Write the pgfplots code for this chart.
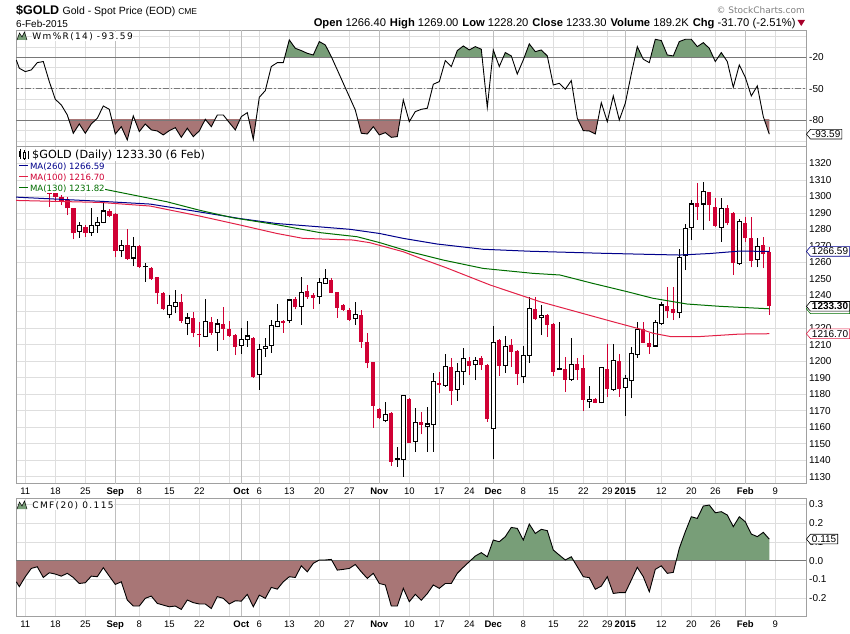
\documentclass[border=0pt]{standalone}
\usepackage{fontspec}
\setmainfont{Liberation Sans}
\newfontfamily\dv{DejaVu Sans}
\newfontfamily\dvs[LetterSpace=15]{DejaVu Sans}
\usepackage{pgfplots}
\pgfplotsset{compat=1.18}
\usepackage{pgfplotstable}
\usetikzlibrary{shapes.symbols}

\definecolor{cred}{RGB}{208,0,52}
\definecolor{mablue}{RGB}{0,0,139}
\definecolor{mared}{RGB}{226,32,70}
\definecolor{magreen}{RGB}{0,110,0}
\definecolor{fgreen}{RGB}{120,158,120}
\definecolor{fred}{RGB}{168,118,118}
\definecolor{gridc}{RGB}{222,222,222}
\definecolor{monthc}{RGB}{190,190,190}
\definecolor{framec}{RGB}{160,160,160}
\definecolor{refl}{RGB}{120,120,120}

\pgfplotstableread{
x v
-5.5 -22.6
-5 -30.5
-4 -33.7
-3 -32.1
-2 -25.1
-1 -24.1
0 -43.3
1 -60.2
2 -65.6
3 -75.2
4 -92.7
5 -83.8
6 -92.7
7 -83.8
8 -78.4
9 -66.6
10 -69.8
11 -93.4
12 -86.4
13 -99.1
14 -76.1
15 -91.1
16 -83.8
17 -89.5
18 -90.5
19 -94.3
20 -90.2
21 -87.3
22 -96.6
23 -87.9
24 -95.9
25 -90.5
26 -79.3
27 -86.4
28 -75.2
29 -75.2
30 -82.5
31 -89.5
32 -76.8
33 -73
34 -98.5
35 -58.3
36 -51.9
37 -28.9
38 -25.1
39 -25.1
40 -3.4
41 -11.4
42 -13.6
43 -16.2
44 -17.8
45 -5
46 -8.2
47 -19.4
48 -32.1
49 -44.9
50 -57.6
51 -70.4
52 -92.7
53 -93.4
54 -86.4
55 -94.3
56 -92.1
57 -96.6
58 -95.9
59 -60.8
60 -81.6
61 -72
62 -69.8
63 -68.8
64 -45.8
65 -43.3
66 -23.2
67 -28.9
68 -13.6
69 -9.2
70 -13
71 -9.8
72 -12.3
73 -67.9
74 -13
75 -28.9
76 -15.5
77 -18.7
78 -36
79 -22.6
80 -7.2
81 -14.6
82 -13
83 -18.7
84 -46.5
85 -44.9
86 -50.6
87 -42.3
88 -78.4
89 -90.2
90 -90.5
91 -93.4
92 -63.4
93 -81.6
94 -57
95 -80
96 -64
97 -36
98 -9.8
99 -21.9
100 -25.1
101 -2.8
102 -4
103 -17.8
104 -18.7
105 -5
106 -2.8
107 -2.8
108 -9.8
109 -6
110 -11.4
111 -24.1
112 -15.5
113 -24.1
114 -48.7
115 -27.3
116 -39.1
117 -57
118 -47.4
119 -76.8
120 -93.59
}\wrdata

\pgfplotstableread{
x v
-5.5 -0.112
-5 -0.138
-4 -0.085
-3 -0.041
-2 -0.032
-1 -0.089
0 -0.064
1 -0.071
2 -0.082
3 -0.067
4 -0.089
5 -0.121
6 -0.117
7 -0.082
8 -0.085
9 -0.037
10 -0.082
11 -0.126
12 -0.112
13 -0.209
14 -0.241
15 -0.241
16 -0.2
17 -0.188
18 -0.227
19 -0.236
20 -0.245
21 -0.241
22 -0.259
23 -0.209
24 -0.223
25 -0.23
26 -0.23
27 -0.254
28 -0.191
29 -0.2
30 -0.23
31 -0.213
32 -0.215
33 -0.179
34 -0.245
35 -0.183
36 -0.2
37 -0.142
38 -0.151
39 -0.112
40 -0.085
41 -0.089
42 -0.027
43 -0.059
44 -0.014
45 0.004
46 0.004
47 0.007
48 -0.05
49 -0.046
50 -0.041
51 -0.02
52 -0.059
53 -0.094
54 -0.067
55 -0.121
56 -0.129
57 -0.241
58 -0.241
59 -0.147
60 -0.218
61 -0.179
62 -0.21
63 -0.175
64 -0.129
65 -0.147
66 -0.121
67 -0.121
68 -0.067
69 -0.035
70 -0.005
71 0.025
72 0.043
73 0.021
74 0.11
75 0.101
76 0.128
77 0.177
78 0.172
79 0.11
80 0.195
81 0.145
82 0.167
83 0.16
84 0.057
85 0.03
86 0.004
87 0.021
88 -0.032
89 -0.085
90 -0.09
91 -0.152
92 -0.135
93 -0.085
94 -0.174
95 -0.17
96 -0.17
97 -0.103
98 -0.035
99 -0.085
100 -0.165
101 -0.046
102 -0.027
103 -0.067
104 -0.062
105 0.066
106 0.154
107 0.234
108 0.225
109 0.291
110 0.296
111 0.255
112 0.261
113 0.243
114 0.181
115 0.234
116 0.207
117 0.142
118 0.128
119 0.151
120 0.115
}\cmfdata

\pgfplotstableread{
x v
-5.55 1299.5
8.45 1297
16.8 1295.3
25.1 1290.5
31.8 1286.5
37.9 1283.5
45 1281.5
50.1 1280
55 1277.5
59 1274.5
64.6 1271.1
72.3 1267.9
80.1 1266.7
91.8 1265.5
100 1264.8
105.1 1264.4
110 1265.3
115.1 1266.8
120 1266.59
}\maA

\pgfplotstableread{
x v
-5.55 1297.5
8.45 1296.3
16.8 1294.1
25.1 1288
31.8 1282.6
37.9 1277.5
42.3 1274.5
50.6 1273.5
53.4 1271.9
59 1266.4
62 1262.2
66.3 1256.5
73.5 1246.2
81.8 1236.1
88.9 1229
93.9 1224
98.5 1219.5
100.6 1217
103.5 1215
108.5 1215
115.1 1216.5
120 1216.7
}\maB

\pgfplotstableread{
x v
9.3 1304.2
19.6 1296.7
25.1 1291.5
30.6 1287
37.9 1282.8
45.1 1278
51.3 1275.5
55.1 1271.9
60.1 1266.4
65.6 1261.4
72.3 1256.3
80.6 1253.3
85.1 1252.3
90.6 1247.2
96.3 1242.2
100.6 1238.2
106.3 1234.7
111.8 1233.3
120 1231.82
}\maC

% down (red) candles: x open high low close
\pgfplotstableread{
x o h l c
0 1302.5 1305 1293.7 1301.5
1 1302.2 1303 1296.7 1299.3
2 1299.3 1300.8 1294.7 1296.7
3 1297.7 1299.7 1288.6 1292.7
4 1292.7 1293.2 1273.9 1277.5
6 1281.2 1282.4 1275.5 1277.5
10 1291.1 1292.1 1287.2 1288.2
11 1289.2 1290 1263 1267
13 1270.3 1280 1261.5 1262
15 1269.9 1270.5 1256.5 1256.9
17 1256.7 1257.2 1249.2 1249.7
18 1250.9 1251.2 1234.7 1241.2
19 1241.6 1242 1230.8 1231.5
22 1235.9 1240.7 1223.4 1224.3
24 1226 1230 1214.5 1217
25 1216.6 1224 1208.9 1215.7
27 1224 1227 1216 1217.3
29 1222.6 1233 1213 1219.6
30 1219.6 1224.6 1215 1215.5
31 1216 1216.3 1203.8 1208.9
34 1214.1 1214.5 1190.1 1190.5
39 1224.6 1225 1217.3 1223.4
41 1237.8 1239.2 1231.5 1232.7
43 1242.4 1246 1238 1239.2
44 1240.2 1241.6 1231.7 1238.6
47 1249.3 1250.3 1241.2 1241.6
48 1241.8 1242 1226.4 1232.5
49 1234.1 1234.5 1230.5 1231.1
50 1231.1 1232 1224.6 1225
52 1228 1231.1 1208.2 1211.9
53 1211.5 1217 1195.7 1198.8
54 1199.4 1199.5 1159.8 1173.1
55 1171.1 1171.5 1165 1165.4
57 1168.7 1169 1136.7 1139.2
60 1177.1 1177.5 1150.2 1150.7
62 1163 1169 1155.7 1161.4
65 1186.6 1193.7 1180.6 1185.6
67 1196.3 1201.8 1173.5 1182.2
70 1200.2 1202.8 1191.7 1197.4
72 1201.8 1203 1194.7 1197.8
73 1197.8 1198.5 1163.4 1165
75 1212.9 1213.5 1191.1 1197.4
77 1209.7 1213.5 1196.7 1205.8
78 1206.2 1207 1185.6 1192.3
81 1231.7 1239.2 1225 1225.6
83 1227.9 1228.5 1214.9 1222
84 1222.6 1223 1191.1 1193.7
86 1195.3 1202.8 1181.6 1188.9
88 1198.4 1201.8 1188.6 1194.7
89 1195.7 1203.8 1169.9 1176.5
91 1177.1 1178 1174.5 1174.9
93 1195.3 1210.3 1178.6 1183
95 1200.2 1204.2 1178.6 1183
99 1219.4 1223.6 1211 1211.3
100 1210.9 1217.3 1204.4 1208.9
103 1233.5 1245.2 1226 1230.7
104 1231.5 1245.2 1225 1229.1
108 1296.1 1308.3 1285.6 1293.7
110 1302.4 1302.8 1285.2 1294.7
111 1293.7 1298.8 1281.2 1282
113 1292.7 1294.7 1282.6 1283.6
114 1289.7 1290.7 1252.3 1259.4
116 1284 1287.7 1272.5 1274.5
117 1274.5 1287.7 1256.9 1261
119 1270.5 1275.1 1256.3 1265
120 1266.4 1269 1228.2 1233.3
}\dn

% up (white) candles: x open high low close
\pgfplotstableread{
x o h l c
5 1278.7 1284.6 1274.9 1282.4
7 1278.1 1292.7 1276.1 1282.4
8 1282.2 1287.6 1277.9 1284.2
9 1284.2 1296.7 1283.6 1291.1
12 1267 1273.5 1263.4 1270.3
14 1262.6 1275.1 1257.7 1269.5
16 1257.2 1259.8 1248.2 1257.6
20 1228.6 1240.2 1226 1233.7
21 1233.3 1243.2 1229 1235.7
23 1223 1229.1 1215.9 1226.2
26 1215 1237.5 1214.5 1224
28 1217.6 1225.4 1206.4 1222.6
32 1209.5 1220 1204.4 1213.3
33 1213.3 1224.6 1208.9 1215.3
35 1192.1 1210.5 1182.6 1207.2
36 1207.9 1213.9 1202.8 1209.1
37 1209.5 1225 1205.2 1221.8
38 1221 1234.7 1220.6 1224.2
40 1224.6 1237.5 1223.4 1237.1
42 1233.3 1251.3 1222 1241.8
45 1239.2 1250.3 1234.7 1247.9
46 1247.2 1255.9 1247 1250.3
51 1226 1235.7 1222 1228.5
56 1164 1175.1 1163 1167.9
58 1140.6 1148.2 1136.1 1141.2
59 1140.6 1179 1130.1 1179
61 1151.3 1171.5 1145.2 1163
63 1160.4 1172.5 1145.2 1162
64 1161.8 1192.7 1145.2 1187.6
66 1185.4 1204.2 1184.6 1196.7
68 1183 1199.2 1176.1 1193.7
69 1193.7 1207.9 1185.6 1201.8
71 1197.8 1202.8 1188.6 1200.6
74 1159.4 1221.4 1140.8 1211.3
76 1197.4 1215.3 1193.1 1209.1
79 1190.9 1209.5 1186.6 1203.6
80 1203.6 1239.2 1199.2 1232.1
82 1226.6 1234.1 1215.9 1227.9
85 1195.1 1224 1195 1195.5
87 1189.1 1213.9 1188.3 1198.1
90 1175.5 1185 1171.9 1177
92 1174.9 1196.5 1174.5 1196.3
94 1183 1210.3 1182 1200.6
96 1184.2 1191.7 1167 1189.7
97 1188.1 1208.5 1177.5 1204.8
98 1204.2 1224 1202.2 1219.4
101 1209.3 1225 1209 1223.6
102 1223 1236.1 1222 1234.1
105 1229.5 1267.9 1226 1263
106 1264.4 1283.2 1255.3 1280.6
107 1281.2 1297.8 1273.5 1295.3
109 1295.3 1308.9 1279.6 1303
112 1281.2 1298.8 1272.5 1292.7
115 1259.4 1286 1258.4 1284.6
118 1261.8 1274.5 1256.9 1269.5
}\up

\pgfplotsset{
 panel/.style={
  scale only axis, width=790pt,
  xmin=-5.55, xmax=126.12,
  axis line style={draw=framec, line width=0.7pt},
  major tick length=0pt, minor tick length=0pt,
  tick style={draw=none},
  xtick={-4,1,6,11,15,20,25,30,32,35,40,45,50,55,60,65,70,74,79,84,89,93,96,102,107,111,116,121},
  xmajorgrids=true,
  major grid style={draw=gridc, line width=0.6pt},
  extra x ticks={11,32,55,74,96,116},
  extra x tick labels={},
  extra x tick style={grid=major, major grid style={draw=monthc, line width=0.7pt}},
  yticklabel pos=right,
  yticklabel style={anchor=west, inner sep=0pt, xshift=3pt, font=\fontsize{10}{10}\selectfont},
  xticklabel style={anchor=north, inner sep=0pt, text height=7pt, text depth=2pt, yshift=-4pt, font=\fontsize{9.5}{10}\selectfont},
 },
 datelabels/.style={xticklabels={11,18,25,\textbf{Sep},8,15,22,{},\textbf{Oct},6,13,20,27,\textbf{Nov},10,17,24,\textbf{Dec},8,15,22,29,\textbf{2015},12,20,26,\textbf{Feb},9}},
 candle/.style={draw=none, mark=none, forget plot},
}
\tikzset{vbox/.style={signal, signal to=west, signal pointer angle=100, fill=white, line width=0.6pt, inner xsep=1.5pt, inner ysep=1.3pt, anchor=west, font=\fontsize{10}{10}\selectfont}}

\begin{document}
\begin{tikzpicture}
\path[use as bounding box] (0pt,0pt) rectangle (850pt,633pt);

% ---------------- Williams %R panel
\begin{axis}[panel, at={(16pt,487pt)}, anchor=south west, height=116pt,
  ymin=-104.9, ymax=6.1, xticklabel={\mbox{}},
  ytick={-100,-90,...,0}, yticklabels={,,-80,,,-50,,,-20,,}, ymajorgrids]
\begin{scope}
\clip (axis cs:-10,-20) rectangle (axis cs:130,10);
\addplot[fill=fgreen, draw=none] table[x=x,y=v]{\wrdata} -- (axis cs:120,-110) -- (axis cs:-5.5,-110) -- cycle;
\end{scope}
\begin{scope}
\clip (axis cs:-10,-80) rectangle (axis cs:130,-110);
\addplot[fill=fred, draw=none] table[x=x,y=v]{\wrdata} -- (axis cs:120,10) -- (axis cs:-5.5,10) -- cycle;
\end{scope}
\addplot[draw=refl, line width=0.8pt] coordinates {(-6,-20) (127,-20)};
\addplot[draw=refl, line width=0.8pt] coordinates {(-6,-80) (127,-80)};
\addplot[draw=refl, line width=0.7pt, dash pattern=on 6pt off 2pt on 1.5pt off 2pt] coordinates {(-6,-50) (127,-50)};
\addplot[black, line width=0.9pt] table[x=x,y=v]{\wrdata};
\coordinate (bw) at (axis cs:126.12,-93.59);
\end{axis}

% ---------------- Price panel
\begin{axis}[panel, datelabels, at={(16pt,149.5pt)}, anchor=south west, height=337.5pt,
  ymin=1125.9, ymax=1330.5, ytick={1130,1140,...,1320}, ymajorgrids,
  yticklabels={1130,1140,1150,1160,1170,1180,1190,1200,1210,1220,{},1240,1250,1260,1270,1280,1290,1300,1310,1320}]
% red candles
\addplot[candle, error bars/.cd, y dir=plus, y explicit, error mark=none,
  error bar style={draw=cred, line width=1pt}]
  table[x=x, y=l, y error expr={\thisrow{h}-\thisrow{l}}]{\dn};
\addplot[candle, error bars/.cd, y dir=plus, y explicit, error mark=none,
  error bar style={draw=cred, line width=4.4pt}]
  table[x=x, y=c, y error expr={max(\thisrow{o}-\thisrow{c},0.7)}]{\dn};
% white candles
\addplot[candle, error bars/.cd, y dir=plus, y explicit, error mark=none,
  error bar style={draw=black, line width=1pt}]
  table[x=x, y=l, y error expr={\thisrow{h}-\thisrow{l}}]{\up};
\addplot[candle, error bars/.cd, y dir=plus, y explicit, error mark=none,
  error bar style={draw=black, line width=5pt}]
  table[x=x, y expr={\thisrow{o}-0.35}, y error expr={max(\thisrow{c}-\thisrow{o},0.3)+0.7}]{\up};
\addplot[candle, error bars/.cd, y dir=plus, y explicit, error mark=none,
  error bar style={draw=white, line width=3pt}]
  table[x=x, y expr={\thisrow{o}+0.35}, y error expr={max(\thisrow{c}-\thisrow{o}-0.7,0)}]{\up};
% moving averages
\addplot[mablue, line width=1pt] table[x=x,y=v]{\maA};
\addplot[mared, line width=1pt] table[x=x,y=v]{\maB};
\addplot[magreen, line width=1pt] table[x=x,y=v]{\maC};
\coordinate (b1) at (axis cs:126.12,1266.59);
\coordinate (b2) at (axis cs:126.12,1233.30);
\coordinate (b3) at (axis cs:126.12,1216.70);
\coordinate (b4) at (axis cs:126.12,1231.82);
\end{axis}

% ---------------- CMF panel
\begin{axis}[panel, datelabels, at={(16pt,17pt)}, anchor=south west, height=117.7pt,
  ymin=-0.294, ymax=0.332, ytick={-0.2,-0.1,0,0.1,0.2,0.3},
  yticklabels={-0.2,-0.1,0.0,0.1,0.2,0.3}, ymajorgrids]
\begin{scope}
\clip (axis cs:-10,0) rectangle (axis cs:130,1);
\addplot[fill=fgreen, draw=none] table[x=x,y=v]{\cmfdata} -- (axis cs:120,-1) -- (axis cs:-5.5,-1) -- cycle;
\end{scope}
\begin{scope}
\clip (axis cs:-10,0) rectangle (axis cs:130,-1);
\addplot[fill=fred, draw=none] table[x=x,y=v]{\cmfdata} -- (axis cs:120,1) -- (axis cs:-5.5,1) -- cycle;
\end{scope}
\addplot[draw=refl, line width=0.8pt] coordinates {(-6,0) (127,0)};
\addplot[black, line width=0.9pt] table[x=x,y=v]{\cmfdata};
\coordinate (bc) at (axis cs:126.12,0.115);
\end{axis}

% ---------------- value boxes
\node[vbox, draw=black] at (bw) {-93.59};
\node[vbox, draw=mablue] at (b1) {1266.59};
\node[vbox, draw=magreen] at (b4) {\phantom{1231.82}};
\node[vbox, draw=black, font=\fontsize{10}{10}\selectfont\bfseries] at (b2) {1233.30};
\node[vbox, draw=mared] at (b3) {1216.70};
\node[vbox, draw=black] at (bc) {0.115};

% ---------------- header
\node[anchor=base west, inner sep=0pt] at (16pt,618pt)
  {\fontsize{12.5}{13}\selectfont\bfseries \$GOLD\ \fontsize{10.5}{12}\selectfont\mdseries Gold - Spot Price (EOD)\ \fontsize{8.5}{10}\selectfont CME};
\node[anchor=base west, inner sep=0pt] at (16pt,605.7pt) {\fontsize{10}{12}\selectfont 6-Feb-2015};
\node[anchor=base east, inner sep=0pt] at (795.7pt,606.3pt)
  {\fontsize{11.2}{12}\selectfont \textbf{Open} 1266.40\hspace{4pt}\textbf{High} 1269.00\hspace{4pt}\textbf{Low} 1228.20\hspace{4pt}\textbf{Close} 1233.30\hspace{4pt}\textbf{Volume} 189.2K\hspace{4pt}\textbf{Chg} -31.70 (-2.51\%)};
\fill[cred!80!black] (797.5pt,613pt) -- (805pt,613pt) -- (801.25pt,607pt) -- cycle;
\node[anchor=base east, inner sep=0pt, text=gray] at (805pt,619.5pt) {\dv\fontsize{9}{10}\selectfont © StockCharts.com};

% ---------------- panel legends
\fill[fgreen] (17pt,593pt) -- (19.5pt,600pt) -- (22pt,596pt) -- (24.5pt,601pt) -- (27pt,593pt) -- cycle;
\draw[black, line width=0.5pt] (17pt,593pt) -- (19.5pt,600pt) -- (22pt,596pt) -- (24.5pt,601pt) -- (27pt,593pt);
\node[anchor=base west, inner sep=0.5pt, fill=white] at (31.7pt,593.5pt) {\dvs\fontsize{9}{10}\selectfont Wm\%R(14) -93.59};

\fill[fgreen] (17pt,124pt) -- (19.5pt,131pt) -- (22pt,127pt) -- (24.5pt,132pt) -- (27pt,124pt) -- cycle;
\draw[black, line width=0.5pt] (17pt,124pt) -- (19.5pt,131pt) -- (22pt,127pt) -- (24.5pt,132pt) -- (27pt,124pt);
\node[anchor=base west, inner sep=0.5pt, fill=white] at (31.7pt,124.7pt) {\dvs\fontsize{9}{10}\selectfont CMF(20) 0.115};

% main legend
\draw[black, line width=0.6pt] (20pt,474pt) -- (20pt,484pt);
\fill[black] (18.8pt,476pt) rectangle (21.2pt,482pt);
\draw[black, line width=0.6pt] (24.5pt,473pt) -- (24.5pt,483pt);
\draw[black, line width=0.6pt, fill=white] (23.3pt,475pt) rectangle (25.7pt,481pt);
\draw[black, line width=0.6pt] (28.5pt,474pt) -- (28.5pt,482pt);
\node[anchor=base west, inner sep=0.5pt, fill=white] at (31.5pt,474.7pt) {\dv\fontsize{11.2}{12}\selectfont \$GOLD (Daily) 1233.30 (6 Feb)};
\draw[mablue, line width=1.8pt] (19pt,467.5pt) -- (28pt,467.5pt);
\node[anchor=base west, inner sep=0.5pt, fill=white, text=mablue] at (29.3pt,464pt) {\dv\fontsize{8.6}{10}\selectfont MA(260) 1266.59};
\draw[mared, line width=1.8pt] (19pt,456.5pt) -- (28pt,456.5pt);
\node[anchor=base west, inner sep=0.5pt, fill=white, text=cred] at (29.3pt,453pt) {\dv\fontsize{8.6}{10}\selectfont MA(100) 1216.70};
\draw[magreen, line width=1.8pt] (19pt,445.5pt) -- (28pt,445.5pt);
\node[anchor=base west, inner sep=0.5pt, fill=white, text=magreen] at (29.3pt,442pt) {\dv\fontsize{8.6}{10}\selectfont MA(130) 1231.82};
\end{tikzpicture}
\end{document}
